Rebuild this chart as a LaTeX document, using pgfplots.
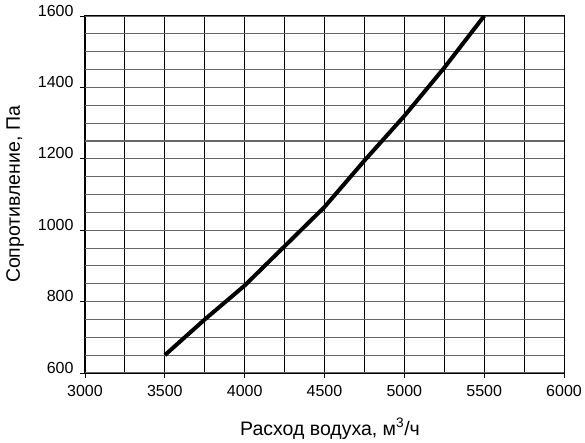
\documentclass[border=0pt]{standalone}
\usepackage{fontspec}
\setmainfont{Liberation Sans}
\usepackage{pgfplots}
\pgfplotsset{compat=1.18}
\begin{document}
\begin{tikzpicture}
\begin{axis}[
  name=ax,
  scale only axis,
  width=479pt, height=357pt,
  xmin=3000, xmax=6000, ymin=600, ymax=1600,
  xtick={3000,3500,...,6000},
  ytick={600,800,...,1600},
  minor x tick num=1,
  minor y tick num=3,
  grid=both,
  major x grid style={black, line width=0.9pt},
  minor x grid style={black, line width=0.9pt},
  major y grid style={black!60, line width=1.1pt},
  minor y grid style={black!60, line width=1.1pt},
  axis line style={black, line width=1pt},
  tick align=outside,
  major tick length=5pt,
  minor tick length=0pt,
  xtick pos=bottom, ytick pos=left,
  tick style={black, line width=0.9pt},
  /pgf/number format/assume math mode=true,
  /pgf/number format/1000 sep={},
  tick label style={font=\fontsize{16}{19}\selectfont},
  yticklabel style={yshift=5.5pt, xshift=-3pt},
  xticklabel style={yshift=-4pt},
  xlabel={Расход водуха, м\textsuperscript{3}/ч},
  ylabel={Сопротивление, Па},
  every axis x label/.style={at={(axis description cs:0.5115,-0.1737)}, anchor=base, font=\fontsize{19.5}{23}\selectfont},
  every axis y label/.style={at={(axis description cs:-0.1357,0.5)}, rotate=90, anchor=base, font=\fontsize{19.5}{23}\selectfont},
]
\addplot[black, line width=4pt, line join=round] coordinates {
(3500,650) (3750,750) (4000,845) (4250,955) (4500,1065) (4750,1195) (5000,1320) (5250,1455) (5500,1600)
};
\end{axis}
\pgfresetboundingbox
\path[use as bounding box] ([xshift=-85pt,yshift=-69pt]ax.south west) rectangle ([xshift=21pt,yshift=16pt]ax.north east);
\end{tikzpicture}
\end{document}
